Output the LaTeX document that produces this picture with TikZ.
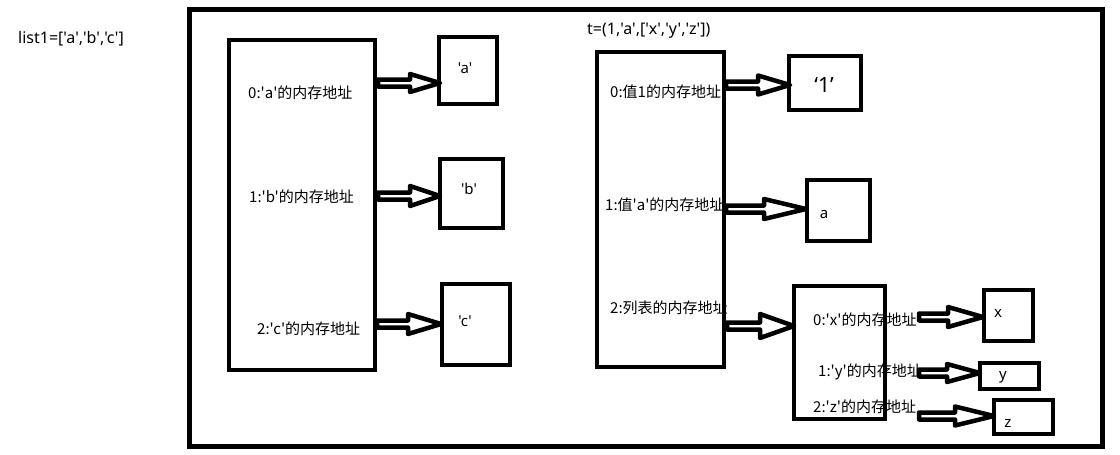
\documentclass[tikz,border=0pt]{standalone}
\usepackage{fontspec}
\setmainfont{Noto Sans CJK SC}[Ligatures=TeXOff]
\newfontfamily\latinfont{Noto Sans}[Ligatures=TeXOff]
\usetikzlibrary{calc}
\tikzset{
  frame/.style={draw, line width=5pt},
  bigbox/.style={draw, line width=4.5pt, inner sep=0pt},
  valbox/.style={draw, line width=4.5pt, inner sep=0pt},
  lbl/.style={anchor=west, inner sep=0pt, font=\fontsize{15}{18}\selectfont},
  ttl/.style={anchor=west, inner sep=0pt, font=\latinfont\fontsize{16}{19}\selectfont},
  val/.style={inner sep=0pt, font=\latinfont\fontsize{15}{18}\selectfont},
  blockarr/.style={draw, line width=4.5pt, line join=round, fill=white},
}
% block arrow: start, end, head length, head half width
\newcommand{\blkarrow}[4]{%
  \draw[blockarr] ($(#1)+(0,3.5)$) -- ($(#2)+(-#3,3.5)$) -- ($(#2)+(-#3,#4)$) -- (#2)
    -- ($(#2)+(-#3,-#4)$) -- ($(#2)+(-#3,-3.5)$) -- ($(#1)+(0,-3.5)$) -- cycle;}
\begin{document}
\begin{tikzpicture}[x=1pt,y=-1pt]
\useasboundingbox (0,0) rectangle (1120,455);
\fill[white] (0,0) rectangle (1120,455);

% arrow end points
\coordinate (a0s) at (378,83);  \coordinate (a0e) at (440,83);
\coordinate (a1s) at (378,196); \coordinate (a1e) at (440,196);
\coordinate (a2s) at (377,324); \coordinate (a2e) at (441,324);
\coordinate (t0s) at (726,85);  \coordinate (t0e) at (790,85);
\coordinate (t1s) at (726,209); \coordinate (t1e) at (806,209);
\coordinate (t2s) at (727,326); \coordinate (t2e) at (794,326);
\coordinate (l0s) at (919,317); \coordinate (l0e) at (983,317);
\coordinate (l1s) at (919,373); \coordinate (l1e) at (980,373);
\coordinate (l2s) at (919,416); \coordinate (l2e) at (994,416);

\blkarrow{a0s}{a0e}{30}{9}
\blkarrow{a1s}{a1e}{30}{10}
\blkarrow{a2s}{a2e}{33}{10}
\blkarrow{t0s}{t0e}{32}{9.5}
\blkarrow{t1s}{t1e}{42}{10}
\blkarrow{t2s}{t2e}{34}{12}
\blkarrow{l0s}{l0e}{35}{10}
\blkarrow{l1s}{l1e}{33}{9}
\blkarrow{l2s}{l2e}{39}{9.5}

% texts
\node[ttl] (title1) at (18,39) {list1=['a','b','c']};
\node[ttl] (title2) at (587,31) {t=(1,'a',['x','y','z'])};

\node[lbl] (L0) at (248,93) {0:'a'的内存地址};
\node[lbl] (L1) at (249,197) {1:'b'的内存地址};
\node[lbl] (L2) at (257,329) {2:'c'的内存地址};

\node[lbl] (T0) at (610,92) {0:值1的内存地址};
\node[lbl] (T1) at (605,205) {1:值'a'的内存地址};
\node[lbl] (T2) at (610,308) {2:列表的内存地址};

\node[lbl] (X0) at (813,320) {0:'x'的内存地址};
\node[lbl] (X1) at (818,372) {1:'y'的内存地址};
\node[lbl] (X2) at (813,407) {2:'z'的内存地址};

\node[val] (va) at (465,68) {'a'};
\node[val] (vb) at (469,189) {'b'};
\node[val] (vc) at (465,321) {'c'};
\node[inner sep=0pt, font=\latinfont\fontsize{21}{24}\selectfont] (v1) at (824,85) {‘1’};
\node[val] (vA) at (824,214) {a};
\node[val] (vx) at (998,313) {x};
\node[val] (vy) at (1003,377) {y};
\node[val] (vz) at (1008,423) {z};

% frame and boxes
\draw[frame] (189,9) rectangle (1102,446);
\node[bigbox, minimum width=146, minimum height=330] (L) at (302,205) {};
\node[bigbox, minimum width=127, minimum height=315] (T) at (660.5,209.5) {};
\node[bigbox, minimum width=91, minimum height=133] (X) at (839.5,352.5) {};

\node[valbox, minimum width=58, minimum height=67] (Ba) at (468,70.5) {};
\node[valbox, minimum width=63, minimum height=69] (Bb) at (471.5,193.5) {};
\node[valbox, minimum width=68, minimum height=81] (Bc) at (476,324.5) {};
\node[valbox, minimum width=72, minimum height=54] (B1) at (825,83) {};
\node[valbox, minimum width=63, minimum height=61] (BA) at (838.5,210.5) {};
\node[valbox, minimum width=49, minimum height=51] (Bx) at (1008.5,315.5) {};
\node[valbox, minimum width=59, minimum height=26] (By) at (1009.5,376) {};
\node[valbox, minimum width=59, minimum height=34] (Bz) at (1023.5,417) {};
\end{tikzpicture}
\end{document}
